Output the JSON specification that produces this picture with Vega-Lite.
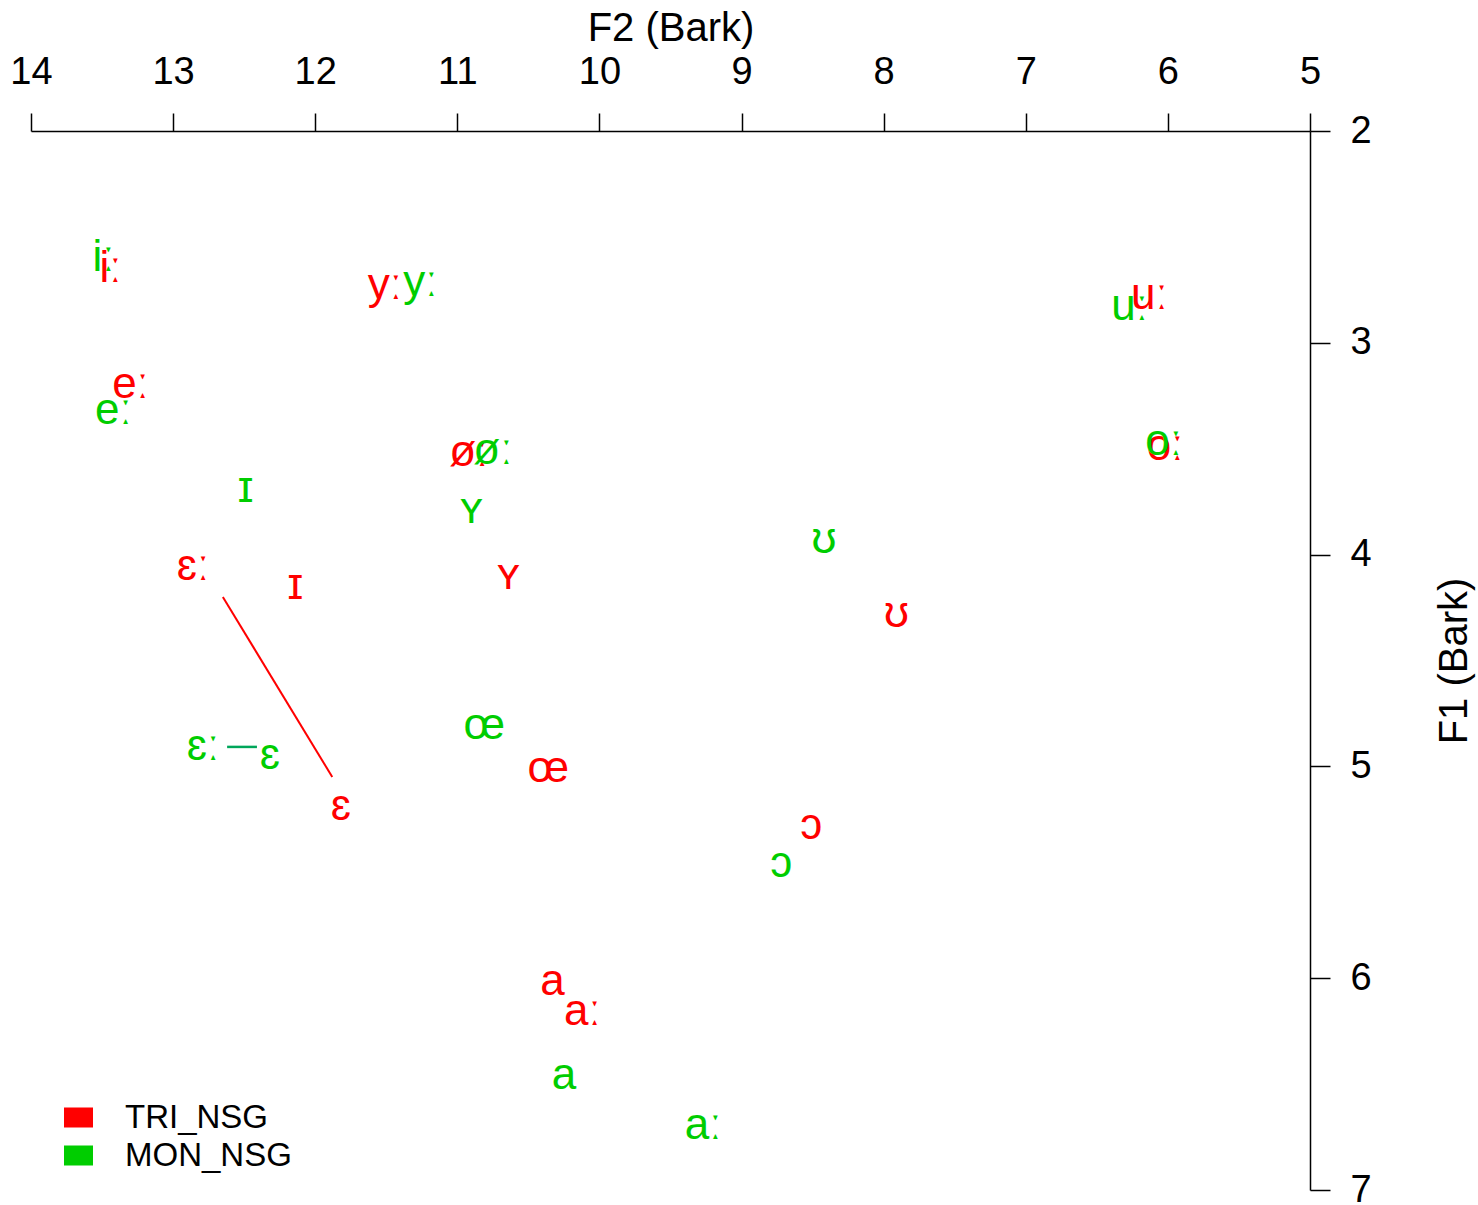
{
  "$schema": "https://vega.github.io/schema/vega-lite/v6.json",
  "autosize": {"type": "none"},
  "width": 1279,
  "height": 1059,
  "padding": {"left": 31, "top": 131, "right": 168, "bottom": 15},
  "background": "white",
  "config": {
    "view": {"stroke": null},
    "font": "Liberation Sans",
    "axis": {"grid": false, "domainColor": "black", "tickColor": "black", "labelColor": "black", "titleColor": "black", "labelFont": "Liberation Sans", "titleFont": "Liberation Sans", "titleFontWeight": "normal", "domainWidth": 1.5, "tickWidth": 1.5}
  },
  "datasets": {
    "vowels": [
      {"vowel": "iː", "group": "TRI_NSG", "F2": 13.44, "F1": 2.65},
      {"vowel": "yː", "group": "TRI_NSG", "F2": 11.51, "F1": 2.73},
      {"vowel": "eː", "group": "TRI_NSG", "F2": 13.30, "F1": 3.20},
      {"vowel": "øː", "group": "TRI_NSG", "F2": 10.92, "F1": 3.52},
      {"vowel": "ʏ", "group": "TRI_NSG", "F2": 10.64, "F1": 4.10},
      {"vowel": "ɪ", "group": "TRI_NSG", "F2": 12.14, "F1": 4.15},
      {"vowel": "ɛː", "group": "TRI_NSG", "F2": 12.86, "F1": 4.06},
      {"vowel": "ɛ", "group": "TRI_NSG", "F2": 11.82, "F1": 5.19},
      {"vowel": "œ", "group": "TRI_NSG", "F2": 10.36, "F1": 5.01},
      {"vowel": "ʊ", "group": "TRI_NSG", "F2": 7.91, "F1": 4.28},
      {"vowel": "ɔ", "group": "TRI_NSG", "F2": 8.51, "F1": 5.28},
      {"vowel": "a", "group": "TRI_NSG", "F2": 10.33, "F1": 6.02},
      {"vowel": "aː", "group": "TRI_NSG", "F2": 10.12, "F1": 6.16},
      {"vowel": "uː", "group": "TRI_NSG", "F2": 6.13, "F1": 2.78},
      {"vowel": "oː", "group": "TRI_NSG", "F2": 6.02, "F1": 3.49},
      {"vowel": "iː", "group": "MON_NSG", "F2": 13.49, "F1": 2.60},
      {"vowel": "yː", "group": "MON_NSG", "F2": 11.26, "F1": 2.72},
      {"vowel": "eː", "group": "MON_NSG", "F2": 13.42, "F1": 3.32},
      {"vowel": "øː", "group": "MON_NSG", "F2": 10.75, "F1": 3.51},
      {"vowel": "ʏ", "group": "MON_NSG", "F2": 10.90, "F1": 3.79},
      {"vowel": "ɪ", "group": "MON_NSG", "F2": 12.49, "F1": 3.69},
      {"vowel": "ɛː", "group": "MON_NSG", "F2": 12.79, "F1": 4.91},
      {"vowel": "ɛ", "group": "MON_NSG", "F2": 12.32, "F1": 4.95},
      {"vowel": "œ", "group": "MON_NSG", "F2": 10.81, "F1": 4.81},
      {"vowel": "ʊ", "group": "MON_NSG", "F2": 8.42, "F1": 3.93},
      {"vowel": "ɔ", "group": "MON_NSG", "F2": 8.72, "F1": 5.46},
      {"vowel": "a", "group": "MON_NSG", "F2": 10.25, "F1": 6.46},
      {"vowel": "aː", "group": "MON_NSG", "F2": 9.27, "F1": 6.70},
      {"vowel": "uː", "group": "MON_NSG", "F2": 6.27, "F1": 2.83},
      {"vowel": "oː", "group": "MON_NSG", "F2": 6.03, "F1": 3.47}
    ],
    "segments": [
      {"group": "TRI_NSG", "F2": 12.65, "F1": 4.20, "F2end": 11.88, "F1end": 5.05},
      {"group": "MON_NSG", "F2": 12.62, "F1": 4.908, "F2end": 12.41, "F1end": 4.908}
    ]
  },
  "layer": [
    {
      "data": {"name": "segments"},
      "transform": [{"filter": "datum.group === 'TRI_NSG'"}],
      "mark": {"type": "rule", "color": "#FF0000", "strokeWidth": 2},
      "encoding": {
        "x": {"field": "F2", "type": "quantitative", "scale": {"domain": [14, 5], "nice": false, "zero": false}},
        "y": {"field": "F1", "type": "quantitative", "scale": {"domain": [2, 7], "nice": false, "zero": false, "reverse": true}},
        "x2": {"field": "F2end"},
        "y2": {"field": "F1end"}
      }
    },
    {
      "data": {"name": "segments"},
      "transform": [{"filter": "datum.group === 'MON_NSG'"}],
      "mark": {"type": "rule", "color": "#00A65A", "strokeWidth": 2.5},
      "encoding": {
        "x": {"field": "F2", "type": "quantitative"},
        "y": {"field": "F1", "type": "quantitative"},
        "x2": {"field": "F2end"},
        "y2": {"field": "F1end"}
      }
    },
    {
      "data": {"name": "vowels"},
      "mark": {"type": "text", "font": "Liberation Sans", "fontSize": 44, "align": "center", "baseline": "middle"},
      "encoding": {
        "x": {
          "field": "F2", "type": "quantitative",
          "scale": {"domain": [14, 5], "nice": false, "zero": false},
          "axis": {"orient": "top", "title": "F2 (Bark)", "format": "d", "values": [5, 6, 7, 8, 9, 10, 11, 12, 13, 14], "tickSize": 18, "labelPadding": 22, "labelFontSize": 38, "titleFontSize": 40, "titleY": -91, "titleBaseline": "alphabetic", "labelFlush": false, "labelOverlap": false}
        },
        "y": {
          "field": "F1", "type": "quantitative",
          "scale": {"domain": [2, 7], "nice": false, "zero": false, "reverse": true},
          "axis": {"orient": "right", "title": "F1 (Bark)", "format": "d", "values": [2, 3, 4, 5, 6, 7], "tickSize": 20, "labelPadding": 20, "labelFontSize": 38, "titleFontSize": 40, "titleAngle": 270, "titleX": 156, "titleBaseline": "alphabetic", "labelFlush": false, "labelOverlap": false}
        },
        "text": {"field": "vowel"},
        "color": {
          "field": "group", "type": "nominal",
          "scale": {"domain": ["TRI_NSG", "MON_NSG"], "range": ["#FF0000", "#00CD00"]},
          "legend": {
            "title": null, "orient": "none", "legendX": 31, "legendY": 970,
            "symbolType": "M-1,-0.69L1,-0.69L1,0.69L-1,0.69Z", "symbolSize": 841, "symbolStrokeWidth": 0, "symbolOpacity": 1,
            "labelFontSize": 33, "labelFont": "Liberation Sans", "labelColor": "black", "labelOffset": 30, "labelLimit": 400, "rowPadding": 4, "padding": 0
          }
        }
      }
    }
  ]
}
